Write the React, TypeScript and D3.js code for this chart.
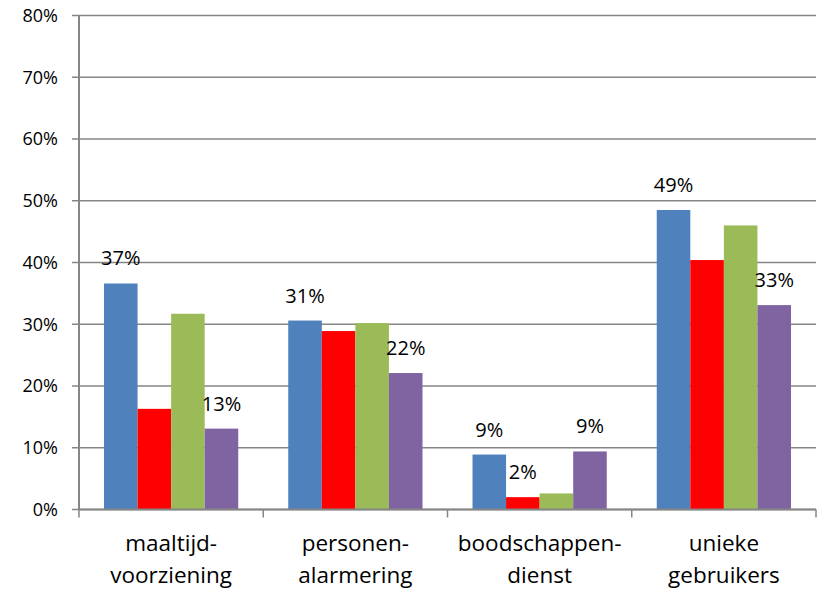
import React from "react";
import * as d3 from "d3";

const categories = [
  ["maaltijd-", "voorziening"],
  ["personen-", "alarmering"],
  ["boodschappen-", "dienst"],
  ["unieke", "gebruikers"],
];
const seriesNames = ["s1", "s2", "s3", "s4"];
const seriesColors = ["#4F81BD", "#FF0000", "#9BBB59", "#8064A2"];
const blueValues = [36.6, 30.6, 8.9, 48.5];
const redValues = [16.3, 28.9, 2.0, 40.4];
const greenValues = [31.7, 30.2, 2.6, 46.0];
const purpleValues = [13.1, 22.1, 9.4, 33.1];
const seriesValues = [blueValues, redValues, greenValues, purpleValues];
// labels shown: [series index, category index, text]
const labelShown = [
  [0, 0, "37%"], [3, 0, "13%"],
  [0, 1, "31%"], [3, 1, "22%"],
  [0, 2, "9%"], [1, 2, "2%"], [3, 2, "9%"],
  [0, 3, "49%"], [3, 3, "33%"],
] as [number, number, string][];
const yTicks = [0, 10, 20, 30, 40, 50, 60, 70, 80];

export default function App() {
  const W = 819, H = 592;
  const left = 79, right = 816, top = 15.5, bottom = 509.5;
  const font = "'Open Sans', sans-serif";
  const y = d3.scaleLinear().domain([0, 80]).range([bottom, top]);
  const x0 = d3.scaleBand<number>().domain(d3.range(categories.length)).range([left, right]).paddingInner(0).paddingOuter(0);
  const x1 = d3.scaleBand<number>().domain(d3.range(seriesNames.length)).range([25, x0.bandwidth() - 25]).padding(0);
  const grid = "#868686";
  return (
    <svg width={W} height={H} style={{ position: "absolute", left: 0, top: 0, background: "#fff" }}>
      {yTicks.map((t) => (
        <g key={t}>
          <line x1={72} x2={right} y1={y(t)} y2={y(t)} stroke={grid} strokeWidth={1.5} />
          <text x={58} y={y(t)} dy="0.35em" textAnchor="end" fontFamily={font} fontSize={18} fill="#000">{t}%</text>
        </g>
      ))}
      {seriesValues.map((vals, si) =>
        vals.map((v, ci) => (
          <rect key={`${si}-${ci}`} x={x0(ci)! + x1(si)!} y={y(v)} width={x1.bandwidth()} height={bottom - y(v)} fill={seriesColors[si]} />
        ))
      )}
      <line x1={left} x2={left} y1={top} y2={bottom} stroke={grid} strokeWidth={2} />
      <line x1={left} x2={right} y1={bottom} y2={bottom} stroke={grid} strokeWidth={2} />
      {d3.range(categories.length + 1).map((i) => {
        const xx = left + i * x0.bandwidth();
        return <line key={i} x1={xx} x2={xx} y1={bottom} y2={bottom + 8} stroke={grid} strokeWidth={1.5} />;
      })}
      {labelShown.map(([si, ci, txt], i) => (
        <text key={i} x={x0(ci)! + x1(si)! + x1.bandwidth() / 2} y={y(seriesValues[si][ci]) - 18} textAnchor="middle" fontFamily={font} fontSize={20} fill="#000">{txt}</text>
      ))}
      {categories.map((lines, ci) => (
        <text key={ci} x={x0(ci)! + x0.bandwidth() / 2} textAnchor="middle" fontFamily={font} fontSize={22.5} fill="#000">
          <tspan x={x0(ci)! + x0.bandwidth() / 2} y={551}>{lines[0]}</tspan>
          <tspan x={x0(ci)! + x0.bandwidth() / 2} y={583}>{lines[1]}</tspan>
        </text>
      ))}
    </svg>
  );
}
